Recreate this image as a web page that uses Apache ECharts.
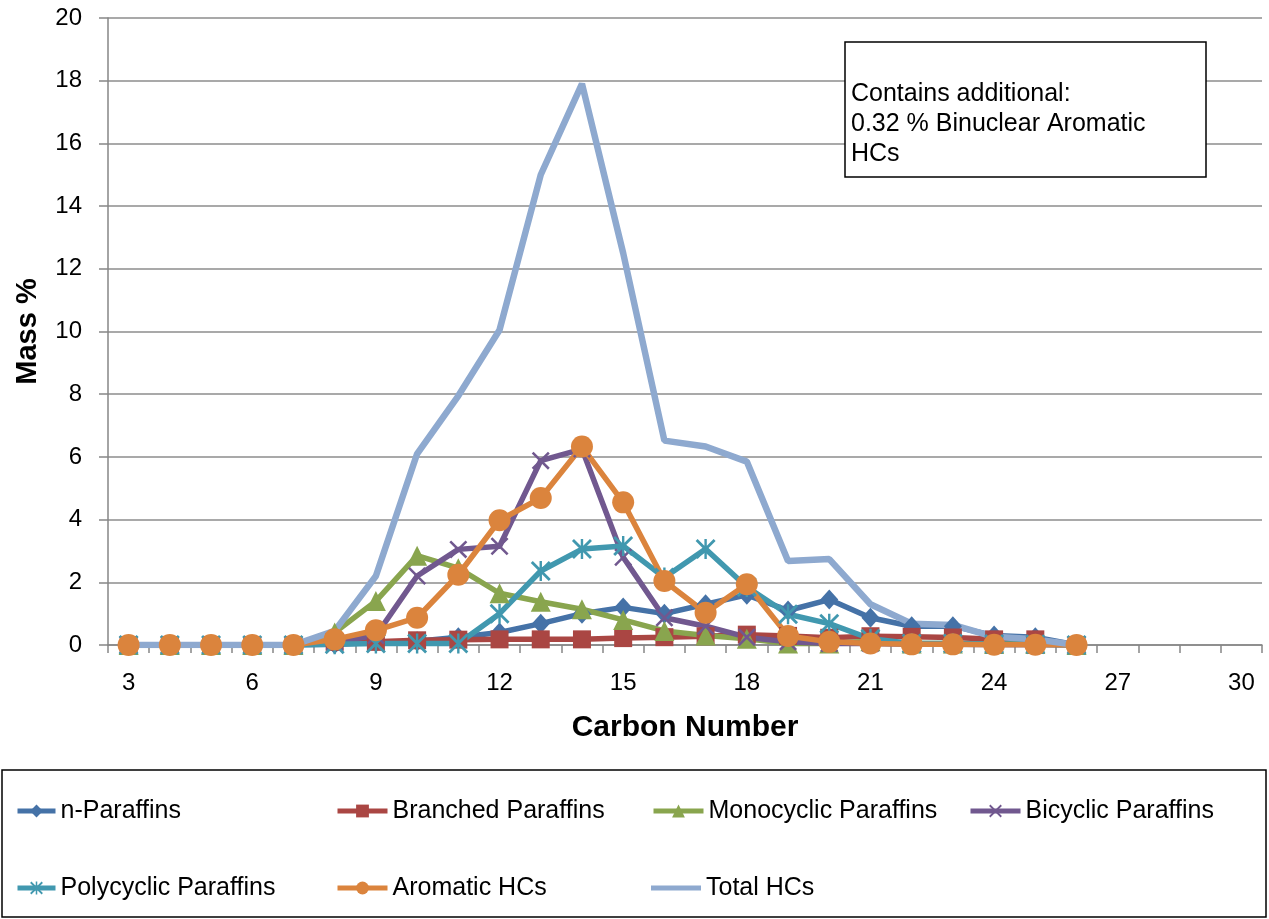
<!DOCTYPE html>
<html><head><meta charset="utf-8">
<script src="https://cdn.jsdelivr.net/npm/echarts@6/dist/echarts.min.js"></script>
<style>html,body{margin:0;padding:0;background:#fff}#c{width:1269px;height:919px}</style>
</head><body><div id="c"></div>
<script>
// Carbon numbers (x categories)
const carbonNumbers = [3,4,5,6,7,8,9,10,11,12,13,14,15,16,17,18,19,20,21,22,23,24,25,26,27,28,29,30];
// Mass % per series (C3 .. C30; null = no data)
const nParaffins   = [0,0,0,0,0,0.02,0.08,0.12,0.25,0.4,0.68,1.0,1.2,1.0,1.3,1.6,1.1,1.45,0.87,0.6,0.6,0.3,0.25,0,null,null,null,null];
const branched     = [0,0,0,0,0,0.1,0.1,0.15,0.17,0.18,0.18,0.18,0.22,0.25,0.28,0.33,0.29,0.23,0.28,0.26,0.24,0.18,0.18,0,null,null,null,null];
const monocyclic   = [0,0,0,0,0,0.4,1.4,2.85,2.45,1.65,1.38,1.14,0.8,0.45,0.3,0.2,0.05,0.05,0.12,0.05,0.05,0.03,0.03,0,null,null,null,null];
const bicyclic     = [0,0,0,0,0,0.1,0.3,2.2,3.05,3.15,5.88,6.25,2.8,0.87,0.6,0.25,0.1,0.05,0.05,0.02,0.02,0.01,0.01,0,null,null,null,null];
const polycyclic   = [0,0,0,0,0,0.02,0.05,0.05,0.05,1.0,2.36,3.06,3.16,2.15,3.06,1.85,0.98,0.68,0.2,0.05,0.05,0.03,0.02,0,null,null,null,null];
const aromatic     = [0,0,0,0,0,0.18,0.47,0.87,2.24,3.98,4.69,6.33,4.55,2.04,1.03,1.94,0.29,0.1,0.05,0.02,0.02,0.01,0.01,0,null,null,null,null];
const totalHCs     = [0,0,0,0,0,0.45,2.2,6.1,7.95,10.05,15.0,17.9,12.5,6.52,6.33,5.85,2.68,2.74,1.3,0.68,0.64,0.26,0.18,0,null,null,null,null];

const seriesNames = ['n-Paraffins','Branched Paraffins','Monocyclic Paraffins','Bicyclic Paraffins','Polycyclic Paraffins','Aromatic HCs','Total HCs'];
const annotationLines = ['Contains additional:','0.32 % Binuclear Aromatic','HCs'];

const FONT = '"Liberation Sans", Arial, sans-serif';
const xSym = 'path://M0,1L1,0L10,9L9,10Z M9,0L10,1L1,10L0,9Z';
const starSym = 'path://M0,1L1,0L10,9L9,10Z M9,0L10,1L1,10L0,9Z M4.4,0L5.6,0L5.6,10L4.4,10Z';

const styles = [
  {color:'#4572A7', symbol:'diamond', size:[18,20], data:nParaffins},
  {color:'#AA4643', symbol:'rect', size:18, data:branched},
  {color:'#89A54E', symbol:'triangle', size:20, data:monocyclic},
  {color:'#71588F', symbol:xSym, size:18, data:bicyclic},
  {color:'#4198AF', symbol:starSym, size:20, data:polycyclic},
  {color:'#DB843D', symbol:'circle', size:22, data:aromatic},
  {color:'#8EA9CF', symbol:'none', size:0, data:totalHCs, width:6.5}
];

const series = styles.map((s,i)=>({
  name: seriesNames[i],
  type:'line',
  data:s.data,
  symbol:s.symbol,
  symbolSize:s.size,
  showSymbol: s.symbol !== 'none',
  showAllSymbol:true,
  connectNulls:false,
  lineStyle:{color:s.color, width:s.width||5.5},
  itemStyle:{color:s.color},
  emphasis:{disabled:true},
  animation:false
}));

const legendLeft  = [15, 335, 651, 968, 15, 335, 651];
const legendWidth = [38, 50, 50, 50, 38, 50, 50];
const legendTop   = [797, 797, 797, 797, 874, 874, 874];
const legends = seriesNames.map((n,i)=>{
  const lg = {
    data:[n], left:legendLeft[i], top:legendTop[i], padding:0,
    itemWidth:legendWidth[i], itemHeight:16, itemGap:0, selectedMode:false,
    lineStyle:{width:5},
    textStyle:{fontSize:25, fontFamily:FONT, color:'#000', lineHeight:28}
  };
  if (n === 'Total HCs') { lg.icon = 'rect'; lg.itemHeight = 5; }
  return lg;
});

const chart = echarts.init(document.getElementById('c'), null, {renderer:'canvas'});
chart.setOption({
  backgroundColor:'#fff',
  animation:false,
  grid:{left:108, right:7, top:18, bottom:274, containLabel:false},
  xAxis:{
    type:'category', data:carbonNumbers, boundaryGap:true,
    name:'Carbon Number', nameLocation:'middle', nameGap:68,
    nameTextStyle:{fontSize:30, fontWeight:'bold', fontFamily:FONT, color:'#000'},
    axisLine:{lineStyle:{color:'#868686', width:1.5}},
    axisTick:{show:true, interval:0, length:8, lineStyle:{color:'#868686', width:1.5}},
    axisLabel:{interval:2, margin:26, fontSize:24, fontFamily:FONT, color:'#000'},
    splitLine:{show:false}
  },
  yAxis:{
    type:'value', min:0, max:20, interval:2,
    name:'Mass %', nameLocation:'middle', nameGap:66, nameRotate:90,
    nameTextStyle:{fontSize:29, fontWeight:'bold', fontFamily:FONT, color:'#000'},
    axisLine:{show:true, lineStyle:{color:'#868686', width:1.5}},
    axisTick:{show:true, length:9, lineStyle:{color:'#868686', width:1.5}},
    axisLabel:{margin:26, fontSize:24, fontFamily:FONT, color:'#000'},
    splitLine:{lineStyle:{color:'#8c8c8c', width:1.5}}
  },
  legend: legends,
  graphic:[
    {type:'rect', z:100, shape:{x:2, y:770, width:1264, height:147}, style:{fill:'none', stroke:'#000', lineWidth:1.5}},
    {type:'rect', z:100, shape:{x:845, y:42, width:361, height:135}, style:{fill:'#fff', stroke:'#000', lineWidth:1.5}},
    {type:'text', z:101, x:851, y:79, style:{text:annotationLines.join('\n'), font:'25px '+FONT, fill:'#000', lineHeight:30, verticalAlign:'top'}}
  ],
  series: series
});
</script></body></html>
